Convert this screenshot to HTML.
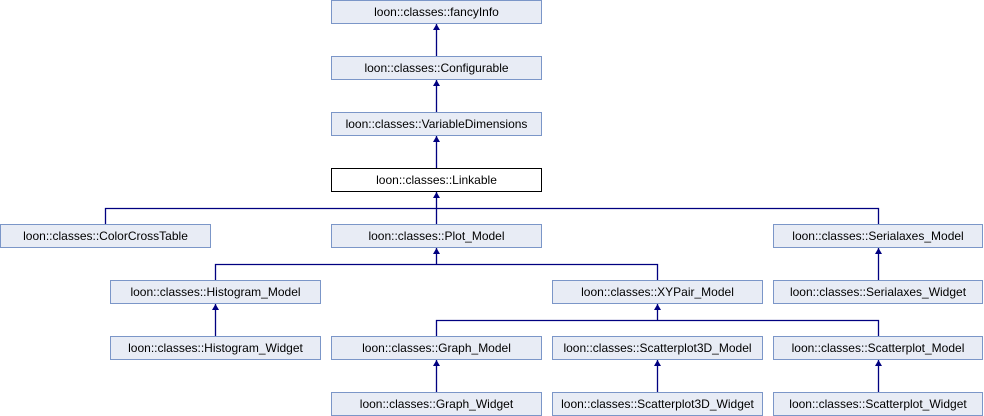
<!DOCTYPE html>
<html><head><meta charset="utf-8"><style>
html,body{margin:0;padding:0;background:#fff;width:984px;height:416px;overflow:hidden}
svg text{font-family:"Liberation Sans",Arial,sans-serif;font-size:12px;fill:#000}
</style></head><body>
<svg width="984" height="416" viewBox="0 0 984 416" xmlns="http://www.w3.org/2000/svg">
<defs>
<marker id="a" markerWidth="8" markerHeight="8" refX="4" refY="0" orient="0" markerUnits="userSpaceOnUse">
<polygon points="1.5,0 6.5,0 4,0" fill="#000080"/>
</marker>
</defs>
<g stroke="#000080" stroke-width="1.3" fill="none">
<!-- vertical single links -->
<path d="M436.5 56V24M436.5 112V80M436.5 168V136"/>
<path d="M105.5 224V208.5H878.5V224M436.5 224V192"/>
<path d="M215.5 280V264.5H657.5V280M436.5 264V248"/>
<path d="M878.5 280V248"/>
<path d="M215.5 336V304"/>
<path d="M436.5 336V320.5H878.5V336M657.5 320V304"/>
<path d="M436.5 392V360M657.5 392V360M878.5 392V360"/>
</g>
<g fill="#000080">
<polygon points="436.5,24 433,30 440,30"/>
<polygon points="436.5,80 433,86 440,86"/>
<polygon points="436.5,136 433,142 440,142"/>
<polygon points="436.5,192 433,198 440,198"/>
<polygon points="436.5,248 433,254 440,254"/>
<polygon points="878.5,248 875,254 882,254"/>
<polygon points="215.5,304 212,310 219,310"/>
<polygon points="657.5,304 654,310 661,310"/>
<polygon points="436.5,360 433,366 440,366"/>
<polygon points="657.5,360 654,366 661,366"/>
<polygon points="878.5,360 875,366 882,366"/>
</g>
<g stroke="#7b96c8" stroke-width="1" fill="#e8ecf5">
<rect x="331.5" y="0.5" width="210" height="23"/>
<rect x="331.5" y="56.5" width="210" height="23"/>
<rect x="331.5" y="112.5" width="210" height="23"/>
<rect x="0.5" y="224.5" width="210" height="23"/>
<rect x="331.5" y="224.5" width="210" height="23"/>
<rect x="773.5" y="224.5" width="209" height="23"/>
<rect x="110.5" y="280.5" width="210" height="23"/>
<rect x="552.5" y="280.5" width="210" height="23"/>
<rect x="773.5" y="280.5" width="209" height="23"/>
<rect x="110.5" y="336.5" width="210" height="23"/>
<rect x="331.5" y="336.5" width="210" height="23"/>
<rect x="552.5" y="336.5" width="210" height="23"/>
<rect x="773.5" y="336.5" width="209" height="23"/>
<rect x="331.5" y="392.5" width="210" height="23"/>
<rect x="552.5" y="392.5" width="210" height="23"/>
<rect x="773.5" y="392.5" width="209" height="23"/>
</g>
<rect x="331.5" y="168.5" width="210" height="23" fill="#fff" stroke="#000" stroke-width="1"/>
<g text-anchor="middle">
<text x="436.5" y="16">loon::classes::fancyInfo</text>
<text x="436.5" y="72">loon::classes::Configurable</text>
<text x="436.5" y="128">loon::classes::VariableDimensions</text>
<text x="436.5" y="184">loon::classes::Linkable</text>
<text x="105.5" y="240">loon::classes::ColorCrossTable</text>
<text x="436.5" y="240">loon::classes::Plot_Model</text>
<text x="878" y="240">loon::classes::Serialaxes_Model</text>
<text x="215.5" y="296">loon::classes::Histogram_Model</text>
<text x="657.5" y="296">loon::classes::XYPair_Model</text>
<text x="878" y="296">loon::classes::Serialaxes_Widget</text>
<text x="215.5" y="352">loon::classes::Histogram_Widget</text>
<text x="436.5" y="352">loon::classes::Graph_Model</text>
<text x="657.5" y="352">loon::classes::Scatterplot3D_Model</text>
<text x="878" y="352">loon::classes::Scatterplot_Model</text>
<text x="436.5" y="408">loon::classes::Graph_Widget</text>
<text x="657.5" y="408">loon::classes::Scatterplot3D_Widget</text>
<text x="878" y="408">loon::classes::Scatterplot_Widget</text>
</g>
</svg>
</body></html>
